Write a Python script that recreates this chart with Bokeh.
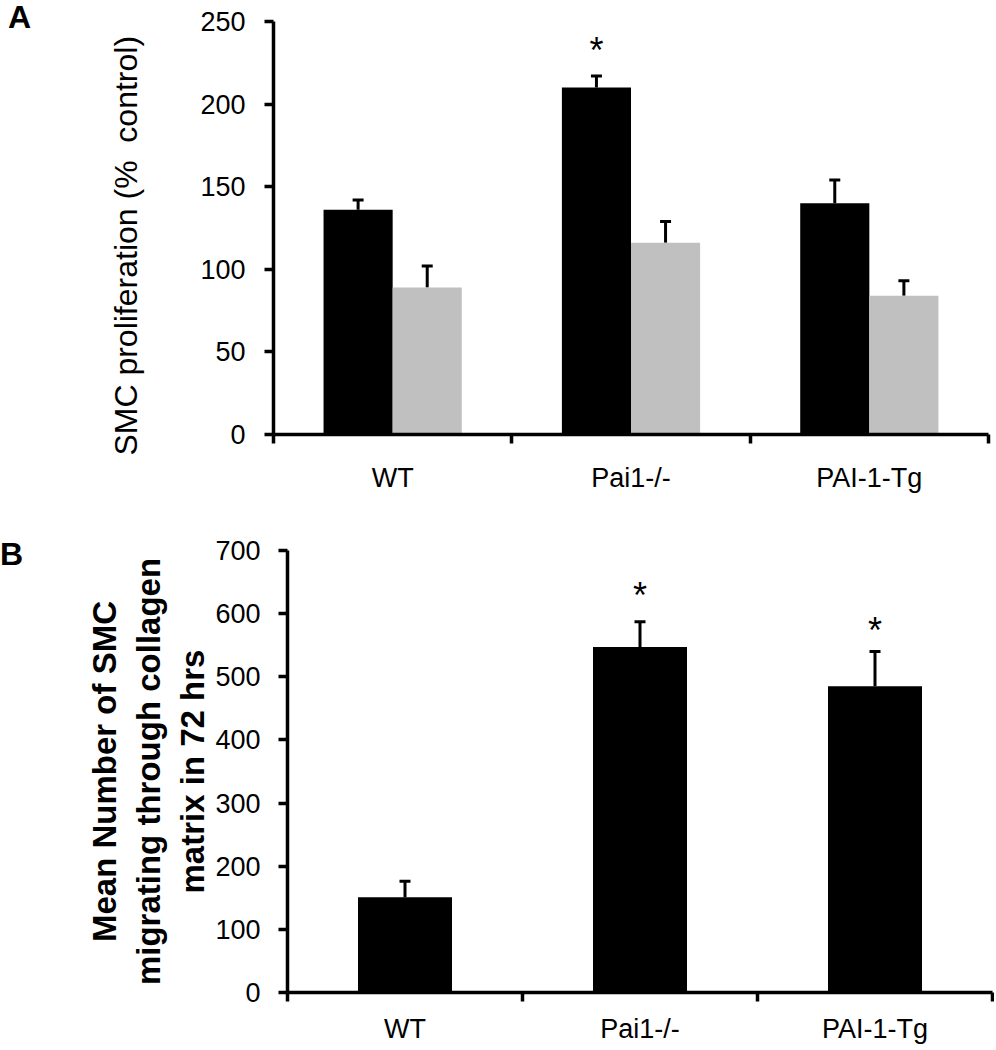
from bokeh.plotting import figure
from bokeh.models import ColumnDataSource, FixedTicker, Whisker, TeeHead, Range1d, Div
from bokeh.layouts import column, row
from bokeh.embed import file_html
from bokeh.resources import INLINE
from bokeh.core.properties import value

# ---------------- data ----------------
categories = ["WT", "Pai1-/-", "PAI-1-Tg"]

# Panel A: SMC proliferation (% control)
a_black = [136, 210, 140]
a_black_err = [6, 7, 14]
a_grey = [89, 116, 84]
a_grey_err = [13, 13, 9]
a_star_text = ["*"]
a_star_cat = ["Pai1-/-"]
a_star_y = [238]
a_ticks = [0, 50, 100, 150, 200, 250]

# Panel B: mean number of SMC migrating through collagen matrix in 72 hrs
b_values = [151, 547, 485]
b_err = [25, 40, 55]
b_star_text = ["*", "*"]
b_star_cat = ["Pai1-/-", "PAI-1-Tg"]
b_star_y = [643, 587]
b_ticks = [0, 100, 200, 300, 400, 500, 600, 700]

FONT = "Liberation Sans"
LETTER_W = 40
NB = "\u00a0"


def style_axes(p, yticks, tick_font, standoff_y, standoff_x):
    p.xgrid.visible = False
    p.ygrid.visible = False
    p.outline_line_color = None
    p.background_fill_color = "white"
    p.border_fill_color = "white"
    for ax in (p.xaxis[0], p.yaxis[0]):
        ax.axis_line_width = 3.5
        ax.axis_line_color = "black"
        ax.major_tick_line_width = 3.5
        ax.minor_tick_line_width = 3.5
        ax.major_tick_line_color = "black"
        ax.minor_tick_line_color = "black"
        ax.major_label_text_font = FONT
        ax.major_label_text_font_size = tick_font
        ax.major_label_text_color = "black"
        ax.axis_label_text_font = FONT
        ax.axis_label_text_color = "black"
    p.yaxis.ticker = FixedTicker(ticks=yticks, minor_ticks=[])
    p.yaxis.major_tick_out = 9
    p.yaxis.major_tick_in = 0
    p.yaxis.minor_tick_out = 0
    p.yaxis.minor_tick_in = 0
    p.yaxis.major_label_standoff = standoff_y
    idx = list(range(len(categories)))
    p.xaxis.ticker = FixedTicker(ticks=idx, minor_ticks=[i - 0.5 for i in range(len(categories) + 1)])
    p.xaxis.major_label_overrides = {i: c for i, c in zip(idx, categories)}
    p.xaxis.major_tick_out = 0
    p.xaxis.major_tick_in = 0
    p.xaxis.minor_tick_out = 9
    p.xaxis.minor_tick_in = 0
    p.xaxis.major_label_standoff = standoff_x


def letter_div(letter, height, pad_top, pad_left):
    html = ('<div style="font-family:\'Liberation Sans\',Arial,sans-serif; font-size:32px; '
            'font-weight:bold; line-height:1.1; margin:0; color:black; '
            f'padding:{pad_top}px 0 0 {pad_left}px;">{letter}</div>')
    return Div(text=html, width=LETTER_W, height=height, margin=0)


# ---------------- Panel A ----------------
HA = 500
pA = figure(width=994 - LETTER_W, height=HA, output_backend="svg", toolbar_location=None,
            x_range=Range1d(-0.5, len(categories) - 0.5), y_range=Range1d(0, 250),
            min_border_left=273 - LETTER_W, min_border_right=6, min_border_top=21, min_border_bottom=66)
style_axes(pA, a_ticks, "27px", 19, 19)
pA.yaxis.axis_label = "SMC proliferation (%" + NB + NB + "control)" + NB * 4
pA.yaxis.axis_label_text_font_size = "32px"
pA.yaxis.axis_label_text_font_style = "normal"
pA.yaxis.axis_label_standoff = 53

w = 0.29
xs = list(range(len(categories)))
srcA1 = ColumnDataSource(dict(x=[x - w / 2 for x in xs], top=a_black,
                              upper=[v + e for v, e in zip(a_black, a_black_err)]))
srcA2 = ColumnDataSource(dict(x=[x + w / 2 for x in xs], top=a_grey,
                              upper=[v + e for v, e in zip(a_grey, a_grey_err)]))
pA.vbar(x="x", top="top", bottom=0, width=w, source=srcA1, fill_color="black", line_color=None)
pA.vbar(x="x", top="top", bottom=0, width=w, source=srcA2, fill_color="#c0c0c0", line_color=None)
for s in (srcA1, srcA2):
    pA.add_layout(Whisker(source=s, base="x", lower="top", upper="upper", dimension="height",
                          line_width=3, line_color="black", lower_head=None,
                          upper_head=TeeHead(size=11, line_width=3, line_color="black")))
srcAs = ColumnDataSource(dict(x=[categories.index(c) - w / 2 for c in a_star_cat], y=a_star_y, t=a_star_text))
pA.text(x="x", y="y", text="t", source=srcAs, text_font=value(FONT), text_font_size="36px",
        text_align="center", text_baseline="middle", y_offset=9, text_color="black")

# ---------------- Panel B ----------------
HB = 548
pB = figure(width=994 - LETTER_W, height=HB, output_backend="svg", toolbar_location=None,
            x_range=Range1d(-0.5, len(categories) - 0.5), y_range=Range1d(0, 700),
            min_border_left=287 - LETTER_W, min_border_right=2, min_border_top=50, min_border_bottom=56)
style_axes(pB, b_ticks, "27px", 18, 12)
pB.yaxis.axis_label = "Mean Number of SMC\nmigrating through collagen\nmatrix in 72 hrs"
pB.yaxis.axis_label_text_font_size = "33px"
pB.yaxis.axis_label_text_font_style = "bold"
pB.yaxis.axis_label_standoff = 1

wb = 0.4
srcB = ColumnDataSource(dict(x=xs, top=b_values, upper=[v + e for v, e in zip(b_values, b_err)]))
pB.vbar(x="x", top="top", bottom=0, width=wb, source=srcB, fill_color="black", line_color=None)
pB.add_layout(Whisker(source=srcB, base="x", lower="top", upper="upper", dimension="height",
                      line_width=3, line_color="black", lower_head=None,
                      upper_head=TeeHead(size=11, line_width=3, line_color="black")))
srcBs = ColumnDataSource(dict(x=[categories.index(c) for c in b_star_cat], y=b_star_y, t=b_star_text))
pB.text(x="x", y="y", text="t", source=srcBs, text_font=value(FONT), text_font_size="36px",
        text_align="center", text_baseline="middle", y_offset=9, text_color="black")

layout = column(row(letter_div("A", HA, 0, 8), pA, spacing=0),
                row(letter_div("B", HB, 37, 0), pB, spacing=0), spacing=0)
open("out.html", "w").write(file_html(layout, INLINE))
